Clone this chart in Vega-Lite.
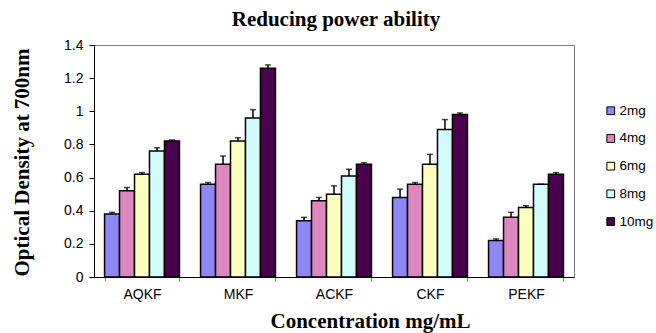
{
  "$schema": "https://vega.github.io/schema/vega-lite/v6.json",
  "width": 480,
  "height": 232,
  "autosize": {"type": "none"},
  "padding": {"left": 94, "top": 45, "right": 82, "bottom": 56},
  "background": "white",
  "title": {
    "text": "Reducing power ability",
    "font": "Liberation Serif",
    "fontSize": 21,
    "fontWeight": "bold",
    "color": "black",
    "anchor": "middle",
    "frame": "group",
    "dx": 2,
    "offset": 8
  },
  "config": {
    "view": {"stroke": "#808080", "strokeWidth": 1},
    "axis": {
      "grid": false,
      "domainColor": "black",
      "tickColor": "black",
      "labelColor": "black",
      "labelFont": "Liberation Sans",
      "labelFontSize": 14,
      "titleFont": "Liberation Serif",
      "titleFontWeight": "bold",
      "titleColor": "black"
    }
  },
  "data": {
    "values": [
      {"cat": "AQKF", "dose": "2mg", "value": 0.38, "hi": 0.39},
      {"cat": "AQKF", "dose": "4mg", "value": 0.52, "hi": 0.54},
      {"cat": "AQKF", "dose": "6mg", "value": 0.62, "hi": 0.63},
      {"cat": "AQKF", "dose": "8mg", "value": 0.76, "hi": 0.78},
      {"cat": "AQKF", "dose": "10mg", "value": 0.82, "hi": 0.827},
      {"cat": "MKF", "dose": "2mg", "value": 0.56, "hi": 0.57},
      {"cat": "MKF", "dose": "4mg", "value": 0.68, "hi": 0.73},
      {"cat": "MKF", "dose": "6mg", "value": 0.82, "hi": 0.84},
      {"cat": "MKF", "dose": "8mg", "value": 0.96, "hi": 1.01},
      {"cat": "MKF", "dose": "10mg", "value": 1.26, "hi": 1.28},
      {"cat": "ACKF", "dose": "2mg", "value": 0.34, "hi": 0.36},
      {"cat": "ACKF", "dose": "4mg", "value": 0.46, "hi": 0.48},
      {"cat": "ACKF", "dose": "6mg", "value": 0.5, "hi": 0.55},
      {"cat": "ACKF", "dose": "8mg", "value": 0.61, "hi": 0.65},
      {"cat": "ACKF", "dose": "10mg", "value": 0.68, "hi": 0.69},
      {"cat": "CKF", "dose": "2mg", "value": 0.48, "hi": 0.53},
      {"cat": "CKF", "dose": "4mg", "value": 0.56, "hi": 0.57},
      {"cat": "CKF", "dose": "6mg", "value": 0.68, "hi": 0.74},
      {"cat": "CKF", "dose": "8mg", "value": 0.89, "hi": 0.95},
      {"cat": "CKF", "dose": "10mg", "value": 0.98, "hi": 0.99},
      {"cat": "PEKF", "dose": "2mg", "value": 0.22, "hi": 0.23},
      {"cat": "PEKF", "dose": "4mg", "value": 0.36, "hi": 0.39},
      {"cat": "PEKF", "dose": "6mg", "value": 0.42, "hi": 0.43},
      {"cat": "PEKF", "dose": "8mg", "value": 0.56, "hi": 0.56},
      {"cat": "PEKF", "dose": "10mg", "value": 0.62, "hi": 0.63}
    ]
  },
  "encoding": {
    "x": {
      "field": "cat",
      "type": "nominal",
      "sort": ["AQKF", "MKF", "ACKF", "CKF", "PEKF"],
      "scale": {"paddingInner": 0.22, "paddingOuter": 0.11},
      "axis": {
        "title": "Concentration mg/mL",
        "titleFontSize": 21,
        "titleX": 276,
        "titleY": 50,
        "titleAlign": "center",
        "titleBaseline": "alphabetic",
        "labelAngle": 0,
        "labelPadding": 6,
        "tickBand": "extent",
        "tickColor": "#808080",
        "tickSize": 4
      }
    },
    "xOffset": {
      "field": "dose",
      "type": "nominal",
      "sort": ["2mg", "4mg", "6mg", "8mg", "10mg"],
      "scale": {"paddingInner": 0, "paddingOuter": 0}
    },
    "y": {
      "field": "value",
      "type": "quantitative",
      "scale": {"domain": [0, 1.4], "nice": false},
      "axis": {
        "title": "Optical Density at 700nm",
        "titleFontSize": 21,
        "titleX": -72,
        "titleY": 117,
        "titleAngle": -90,
        "titleAlign": "center",
        "titleBaseline": "middle",
        "values": [0, 0.2, 0.4, 0.6, 0.8, 1, 1.2, 1.4],
        "format": "~g",
        "tickSize": 5,
        "labelPadding": 6,
        "labelOverlap": false,
        "labelFlush": false
      }
    }
  },
  "layer": [
    {
      "mark": {"type": "rule", "color": "black", "strokeWidth": 1.5},
      "encoding": {
        "y2": {"field": "hi"}
      }
    },
    {
      "mark": {"type": "tick", "color": "black", "size": 6, "thickness": 1.5},
      "encoding": {
        "y": {"field": "hi", "type": "quantitative"}
      }
    },
    {
      "mark": {"type": "bar", "stroke": "black", "strokeWidth": 1.5},
      "encoding": {
        "color": {
          "field": "dose",
          "type": "nominal",
          "sort": ["2mg", "4mg", "6mg", "8mg", "10mg"],
          "scale": {
            "domain": ["2mg", "4mg", "6mg", "8mg", "10mg"],
            "range": ["#8F86F8", "#DE87BF", "#FFFFC2", "#D2FCFC", "#4A004C"]
          },
          "legend": {
            "title": null,
            "orient": "none",
            "legendX": 510,
            "legendY": 59,
            "symbolType": "square",
            "symbolSize": 60,
            "symbolStrokeColor": "black",
            "symbolStrokeWidth": 1,
            "labelFont": "Liberation Sans",
            "labelFontSize": 13.5,
            "labelColor": "black",
            "labelOffset": 2,
            "rowPadding": 12.7
          }
        }
      }
    }
  ]
}
